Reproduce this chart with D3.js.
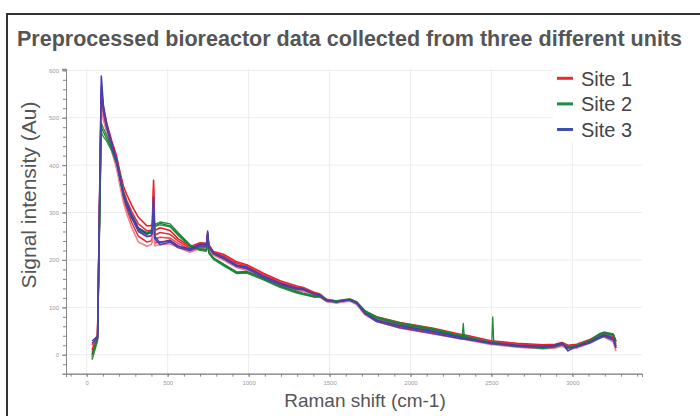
<!DOCTYPE html>
<html><head><meta charset="utf-8">
<script src="https://cdn.jsdelivr.net/npm/d3@7"></script>
<style>html,body{margin:0;padding:0;background:#fff;}svg{display:block;}</style>
</head><body>
<svg id="chart" width="700" height="416"></svg>
<script>
// ---------- DATA ----------
const titleText = "Preprocessed bioreactor data collected from three different units";
const xLabel = "Raman shift (cm-1)";
const yLabel = "Signal intensity (Au)";
const seriesNames = ["Site 1", "Site 2", "Site 3"];
const xTicksMajor = [0, 500, 1000, 1500, 2000, 2500, 3000];
const yTicksMajor = [0, 100, 200, 300, 400, 500, 600];

const ramanShift = [33,67,90,103,124,154,185,206,226,247,278,319,371,397,405,413,420,453,515,564,638,700,740,747,754,782,844,927,988,1091,1194,1297,1338,1410,1441,1482,1544,1596,1626,1668,1719,1791,1935,2141,2320,2326,2332,2502,2508,2514,2656,2820,2893,2936,2973,3027,3109,3171,3195,3253,3269];

const site1 = [
 [10,40,565,520,488,452,418,385,356,338,315,290,272,272,278,368,262,268,262,245,228,236,235,258,232,218,212,196,190,172,156,145,142,131,128,117,113,116,117,111,92,80,68,56,42,42,42,29,29,29,24,21,22,26,20,22,32,44,46,42,28],
 [-5,35,548,510,482,445,410,376,346,326,302,276,262,262,268,350,252,258,254,240,225,233,232,254,229,216,209,193,187,169,153,142,140,129,126,116,112,115,116,110,90,77,65,53,40,40,39,27,27,27,22,19,20,24,18,20,30,42,44,38,22],
 [20,42,540,505,478,440,404,368,337,316,290,264,250,251,257,335,244,248,246,235,222,230,229,250,226,214,206,190,184,166,150,140,138,127,125,115,111,114,115,108,88,75,62,50,37,37,37,25,25,25,20,17,18,22,16,18,28,40,42,35,18],
 [0,38,530,500,472,436,398,362,330,307,279,250,238,240,246,322,236,238,240,230,219,227,226,246,223,212,203,187,181,163,147,137,136,125,123,113,110,113,114,107,86,72,59,47,35,35,35,23,23,23,18,15,16,20,14,16,26,38,40,31,14],
 [-10,30,520,495,468,430,392,355,322,298,268,238,229,232,238,312,230,232,234,226,216,224,223,242,220,210,200,184,178,160,144,135,134,123,121,112,109,112,113,106,84,70,56,44,33,33,32,21,21,21,16,13,14,18,12,14,24,36,38,27,8]
];
const site2 = [
 [5,35,489,478,462,440,412,380,345,322,296,268,258,262,266,300,275,280,276,258,232,224,222,250,218,205,192,175,176,162,146,134,130,124,125,116,114,117,118,112,93,80,67,55,40,66,40,26,80,26,19,15,18,23,17,20,31,45,48,44,30],
 [-10,30,470,460,450,430,402,370,336,313,288,262,254,258,262,290,270,274,270,252,228,220,218,244,214,201,188,171,172,158,142,130,127,121,122,113,111,114,115,109,90,77,64,52,37,40,37,23,23,23,17,13,16,21,15,18,29,42,45,41,27],
 [0,33,480,470,455,435,405,372,338,315,290,264,256,260,264,295,272,277,272,255,230,222,220,247,216,203,190,173,174,160,144,132,128,122,123,114,112,115,116,110,91,78,65,53,38,44,38,24,26,24,18,14,17,22,16,19,30,43,46,42,28]
];
const site3 = [
 [29,39,588,527,485,447,411,375,341,320,295,267,255,257,262,333,250,236,242,229,223,233,232,261,231,215,206,189,185,166,151,141,139,128,126,115,112,115,116,109,88,73,61,49,36,35,35,25,25,25,20,18,20,25,8,18,27,38,42,35,18],
 [24,36,560,515,478,440,405,370,336,314,289,260,249,251,256,318,245,232,238,226,220,230,229,255,228,213,203,186,182,163,148,138,137,127,125,114,111,114,115,108,86,70,57,45,33,33,33,23,23,23,18,16,18,23,14,16,25,35,39,31,14]
];

const site1Colors = ["#ee1c24", "#e8303a", "#f0444c", "#e23040", "#f28090"];
const site2Colors = ["#1f8a3a", "#2a9446", "#1b7d34"];
const site3Colors = ["#3a3db8", "#5040a8"];
const legendColors = ["#f02a2a", "#1c8c44", "#3f4fb0"];

// ---------- CHART ----------
const svg = d3.select("#chart");

// outer frame (left + top edges visible)
svg.append("path").attr("d", "M7,416 L7,14 L700,14")
  .attr("fill", "none").attr("stroke", "#333").attr("stroke-width", 2);

svg.append("text").attr("x", 17).attr("y", 46)
  .attr("font-family", "Liberation Sans, Arial, sans-serif")
  .attr("font-weight", "bold").attr("font-size", 22).attr("fill", "#555")
  .attr("textLength", 665).attr("lengthAdjust", "spacingAndGlyphs")
  .text(titleText);

const x = d3.scaleLinear().domain([-128, 3430]).range([66, 642]);
const y = d3.scaleLinear().domain([-40, 603]).range([373.7, 68.9]);

// grid
const grid = svg.append("g");
grid.selectAll("line.v").data(xTicksMajor).join("line")
  .attr("x1", d => x(d)).attr("x2", d => x(d)).attr("y1", y.range()[1]).attr("y2", y.range()[0])
  .attr("stroke", "#ececec").attr("stroke-width", 1);
grid.selectAll("line.h").data(yTicksMajor).join("line")
  .attr("x1", x.range()[0]).attr("x2", x.range()[1]).attr("y1", d => y(d)).attr("y2", d => y(d))
  .attr("stroke", "#ececec").attr("stroke-width", 1);

// axes
const xMinor = d3.range(-100, 3401, 100);
const yMinor = d3.range(-20, 601, 20);
const xAxisG = svg.append("g").attr("transform", `translate(0,${y.range()[0]})`);
xAxisG.call(d3.axisBottom(x).tickValues(xMinor).tickSize(3).tickFormat(""));
xAxisG.append("g").call(d3.axisBottom(x).tickValues(xTicksMajor).tickSize(3).tickFormat(d3.format("d")));
const yAxisG = svg.append("g").attr("transform", `translate(${x.range()[0]},0)`);
yAxisG.call(d3.axisLeft(y).tickValues(yMinor).tickSize(3).tickFormat(""));
yAxisG.append("g").call(d3.axisLeft(y).tickValues(yTicksMajor).tickSize(4).tickFormat(d3.format("d")));
svg.selectAll(".domain").attr("stroke", "#888");
svg.selectAll(".tick line").attr("stroke", "#888");
svg.selectAll(".tick text").attr("font-size", 6).attr("fill", "#999")
  .attr("font-family", "Liberation Sans, Arial, sans-serif");
xAxisG.selectAll(".tick text").attr("dy", "0.9em");

// lines
const line = d3.line().x((d, i) => x(ramanShift[i])).y(d => y(d));
const lines = svg.append("g").attr("fill", "none").attr("stroke-linejoin", "round");
site1.forEach((s, i) => lines.append("path").attr("d", line(s)).attr("stroke", site1Colors[i]).attr("stroke-width", 1.6));
site2.forEach((s, i) => lines.append("path").attr("d", line(s)).attr("stroke", site2Colors[i]).attr("stroke-width", 1.3));
site3.forEach((s, i) => lines.append("path").attr("d", line(s)).attr("stroke", site3Colors[i]).attr("stroke-width", 1.5));

// legend
const lg = svg.append("g");
lg.append("rect").attr("x", 553).attr("y", 68).attr("width", 89).attr("height", 75).attr("fill", "#fff");
seriesNames.forEach((n, i) => {
  const cy = 78.3 + i * 25.6;
  lg.append("line").attr("x1", 557).attr("x2", 573).attr("y1", cy).attr("y2", cy)
    .attr("stroke", legendColors[i]).attr("stroke-width", 3);
  lg.append("text").attr("x", 581).attr("y", cy).attr("dy", "0.36em")
    .attr("font-family", "Liberation Sans, Arial, sans-serif").attr("font-size", 20).attr("fill", "#444")
    .text(n);
});

// axis titles
svg.append("text").attr("x", 365).attr("y", 407).attr("text-anchor", "middle")
  .attr("font-family", "Liberation Sans, Arial, sans-serif").attr("font-size", 19).attr("fill", "#555")
  .text(xLabel);
svg.append("text").attr("transform", "translate(36,195) rotate(-90)").attr("text-anchor", "middle")
  .attr("font-family", "Liberation Sans, Arial, sans-serif").attr("font-size", 21).attr("fill", "#555")
  .text(yLabel);
</script>
</body></html>
